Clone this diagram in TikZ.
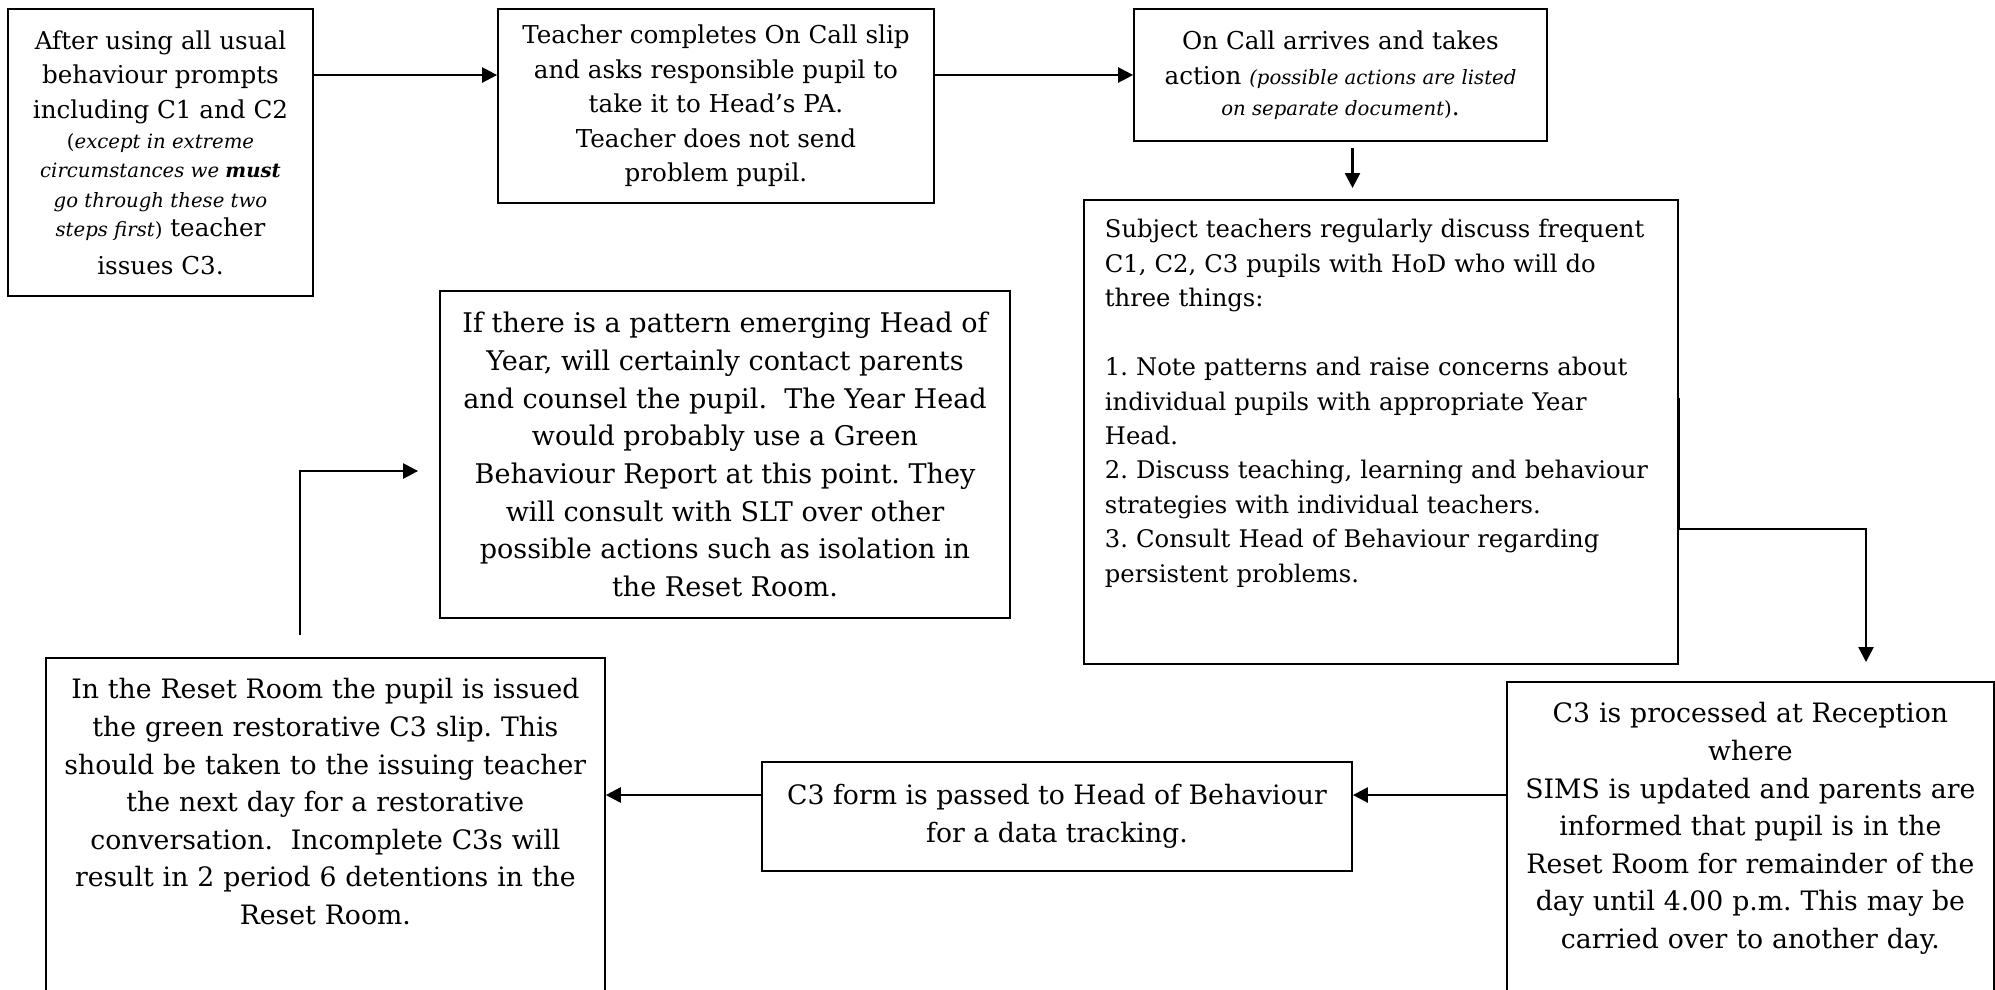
\documentclass[tikz,border=0pt]{standalone}
\usepackage{fontspec}
\setmainfont{DejaVu Serif}
\usetikzlibrary{arrows.meta, positioning}
\newcommand{\aside}[1]{{\fontsize{5.6}{7}\selectfont#1}}
\frenchspacing
\begin{document}
\begin{tikzpicture}[auto, line width=.5pt,
    step box/.style={rectangle, draw, align=center, inner sep=0pt, font=\fontsize{7}{9.8}\selectfont},
    wide box/.style={rectangle, draw, align=center, inner sep=0pt, font=\fontsize{7.6}{10.7}\selectfont},
    arrow/.style={-{Triangle[length=1.5mm, width=1.5mm]}, line width=.7pt}]
    \useasboundingbox (0,0) rectangle (19.95,-9.89);

    % top row
    \node[step box, minimum width=3.05cm, minimum height=2.87cm](start) at (1.605,-1.525){After using all usual\\behaviour prompts\\including C1 and C2\\[-1.1pt]
        \aside{(\textit{except in extreme}}\\[-1.5pt]
        \aside{\textit{circumstances we \textbf{must}}}\\[-1.5pt]
        \aside{\textit{go through these two}}\\[-1.5pt]
        \aside{\textit{steps first})} teacher\\[1pt]
        issues C3.};
    \node[step box, minimum width=4.36cm, minimum height=1.94cm](slip) at (7.16,-1.06){Teacher completes On Call slip\\and asks responsible pupil to\\take it to Head’s PA.\\Teacher does not send\\problem pupil.};
    \node[step box, minimum width=4.13cm, minimum height=1.32cm](oncall) at (13.405,-.75){On Call arrives and takes\\action \aside{\textit{(possible actions are listed}}\\[-1pt]
        \aside{\textit{on separate document})}.};

    % right column
    \node[step box, align=left, anchor=north west, inner xsep=.21cm, text width=5.52cm, text height=.38cm, text depth=4.26cm, font=\fontsize{6.9}{9.8}\selectfont](hod) at (10.83,-1.99){Subject teachers regularly discuss frequent\\C1, C2, C3 pupils with HoD who will do\\three things:\\[9.8pt]
        1. Note patterns and raise concerns about\\individual pupils with appropriate Year\\Head.\\2. Discuss teaching, learning and behaviour\\strategies with individual teachers.\\3. Consult Head of Behaviour regarding\\persistent problems.};
    \node[wide box, anchor=north west, inner xsep=.1cm, text width=4.67cm, text height=.41cm, text depth=3.1cm](reception) at (15.06,-6.81){C3 is processed at Reception\\where\\SIMS is updated and parents are\\informed that pupil is in the\\Reset Room for remainder of the\\day until 4.00 p.m. This may be\\carried over to another day.};

    % bottom row
    \node[wide box, minimum width=5.90cm, minimum height=1.09cm](form) at (10.57,-8.165){C3 form is passed to Head of Behaviour\\for a data tracking.};
    \node[wide box, anchor=north west, inner xsep=.1cm, text width=5.39cm, text height=.41cm, text depth=3.2cm](reset) at (.45,-6.57){In the Reset Room the pupil is issued\\the green restorative C3 slip. This\\should be taken to the issuing teacher\\the next day for a restorative\\conversation.\ \ Incomplete C3s will\\result in 2 period 6 detentions in the\\Reset Room.};
    \node[wide box, minimum width=5.70cm, minimum height=3.27cm, font=\fontsize{7.7}{10.7}\selectfont](pattern) at (7.25,-4.545){If there is a pattern emerging Head of\\Year, will certainly contact parents\\and counsel the pupil.\ \ The Year Head\\would probably use a Green\\Behaviour Report at this point. They\\will consult with SLT over other\\possible actions such as isolation in\\the Reset Room.};

    \coordinate (down) at ([xshift=.12cm]oncall.south);
    \coordinate (drop) at (18.66,-5.29);
    \coordinate (row) at (0,-7.95);
    \coordinate (rise) at ([xshift=-.255cm, yshift=.22cm]reset.north);
    \coordinate (bend) at (0,-4.71);

\foreach \s/\t in {start/slip, slip/oncall}{
    \draw[arrow] (\s.east |- oncall.west) -- (\t.west |- oncall.west);}
\foreach \s/\t in {reception/form, form/reset}{
    \draw[arrow] (\s.west |- row) -- (\t.east |- row);}
    \draw[arrow, shorten <=.06cm, shorten >=.11cm] (down) -- (down |- hod.north);
    \draw[arrow] ([yshift=.34cm]hod.east) |- (drop) -- ([yshift=.19cm]reception.north -| drop);
    \draw[arrow, shorten >=.21cm] (rise) |- (pattern.west |- bend);
\end{tikzpicture}
\end{document}
